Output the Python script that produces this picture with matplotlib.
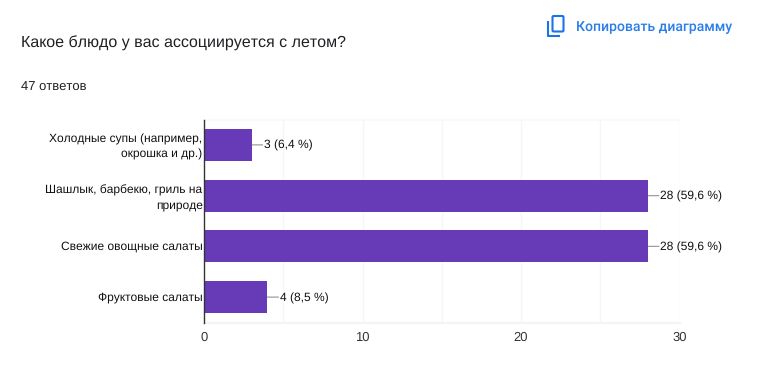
import matplotlib
matplotlib.use('Agg')
import matplotlib.pyplot as plt
from matplotlib.patches import FancyBboxPatch
from matplotlib.transforms import ScaledTranslation

categories = ['Холодные супы (например,\nокрошка и др.)',
              'Шашлык, барбекю, гриль на\nприроде',
              'Свежие овощные салаты',
              'Фруктовые салаты']
values = [3, 28, 28, 4]
value_labels = ['3 (6,4 %)', '28 (59,6 %)', '28 (59,6 %)', '4 (8,5 %)']
xticks = [0, 10, 20, 30]
xgrid = [5, 10, 15, 20, 25, 30]
title = 'Какое блюдо у вас ассоциируется с летом?'
subtitle = '47 ответов'
button = 'Копировать диаграмму'

W, H = 763, 383
PX = 72 / 100
plt.rcParams['font.family'] = ['Liberation Sans', 'DejaVu Sans']
plt.rcParams['text.hinting'] = 'no_hinting'
plt.rcParams['text.hinting_factor'] = 1

fig = plt.figure(figsize=(W / 100, H / 100), dpi=100, facecolor='white')

def rect(l, t, r, b):
    return [l / W, 1 - b / H, (r - l) / W, (b - t) / H]

ax = fig.add_axes(rect(204, 119.5, 679.5, 322.5))
ax.set_xlim(0, 30)
ax.set_ylim(3.5, -0.5)
ax.set_facecolor('white')
for x in xgrid:
    ax.axvline(x, color='#f6f6f6', lw=1, zorder=0)
ax.axhline(-0.5, color='#f8f8f8', lw=1.2, zorder=0, clip_on=False)
ax.axhline(3.5, color='#f4f4f4', lw=1.5, zorder=0, clip_on=False)

ypos = list(range(len(categories)))
ax.barh(ypos, values, height=0.63, color='#673ab7', zorder=2)

for y, v, lab in zip(ypos, values, value_labels):
    ax.annotate('', xy=(v, y), xytext=(11 * PX, 0), textcoords='offset points',
                arrowprops=dict(arrowstyle='-', color='#9e9e9e', lw=0.9, shrinkA=0, shrinkB=0),
                annotation_clip=False, zorder=1)
    ax.annotate(lab, xy=(v, y), xytext=(12.5 * PX, -1 * PX), textcoords='offset points',
                ha='left', va='center', fontsize=12 * PX, color='#111111')

for s in ['top', 'right', 'bottom']:
    ax.spines[s].set_visible(False)
ax.spines['left'].set_color('#333333')
ax.spines['left'].set_linewidth(1.0)
ax.spines['left'].set_zorder(5)

ax.set_yticks(ypos)
ax.set_yticklabels(categories, fontsize=12 * PX, color='#111111', ha='right',
                   linespacing=1.42)
ax.tick_params(axis='y', length=0, pad=1)
shift_up = ScaledTranslation(0, 1 / 100, fig.dpi_scale_trans)
for lbl in ax.get_yticklabels():
    lbl.set_transform(lbl.get_transform() + shift_up)
ax.set_xticks(xticks)
ax.set_xticklabels([str(t) for t in xticks], fontsize=12.5 * PX, color='#333333')
ax.tick_params(axis='x', length=0, pad=6.5)

fig.text(21 / W, 1 - 43 / H, title, fontsize=16.3 * PX, color='#202124', va='center', ha='left')
fig.text(21 / W, 1 - 88 / H, subtitle, fontsize=12.6 * PX, color='#202124', va='center', ha='left')
fig.text(576 / W, 1 - 27 / H, button, fontsize=14.45 * PX, color='#2b7de9',
         va='center', ha='left', family=['Roboto', 'DejaVu Sans'], weight='medium')

# copy icon
overlay = fig.add_axes([0, 0, 1, 1], facecolor='none')
overlay.set_xlim(0, W)
overlay.set_ylim(H, 0)
overlay.axis('off')
blue = '#1a73e8'
overlay.add_patch(FancyBboxPatch((552.5, 16), 11, 15.5, boxstyle='round,pad=0,rounding_size=1.2',
                                 fc='none', ec=blue, lw=1.5))
overlay.plot([548, 548, 559.5], [20.5, 35.5, 35.5], color=blue, lw=1.5,
             solid_capstyle='butt', solid_joinstyle='round')

fig.savefig('out.png', dpi=100, facecolor='white')
